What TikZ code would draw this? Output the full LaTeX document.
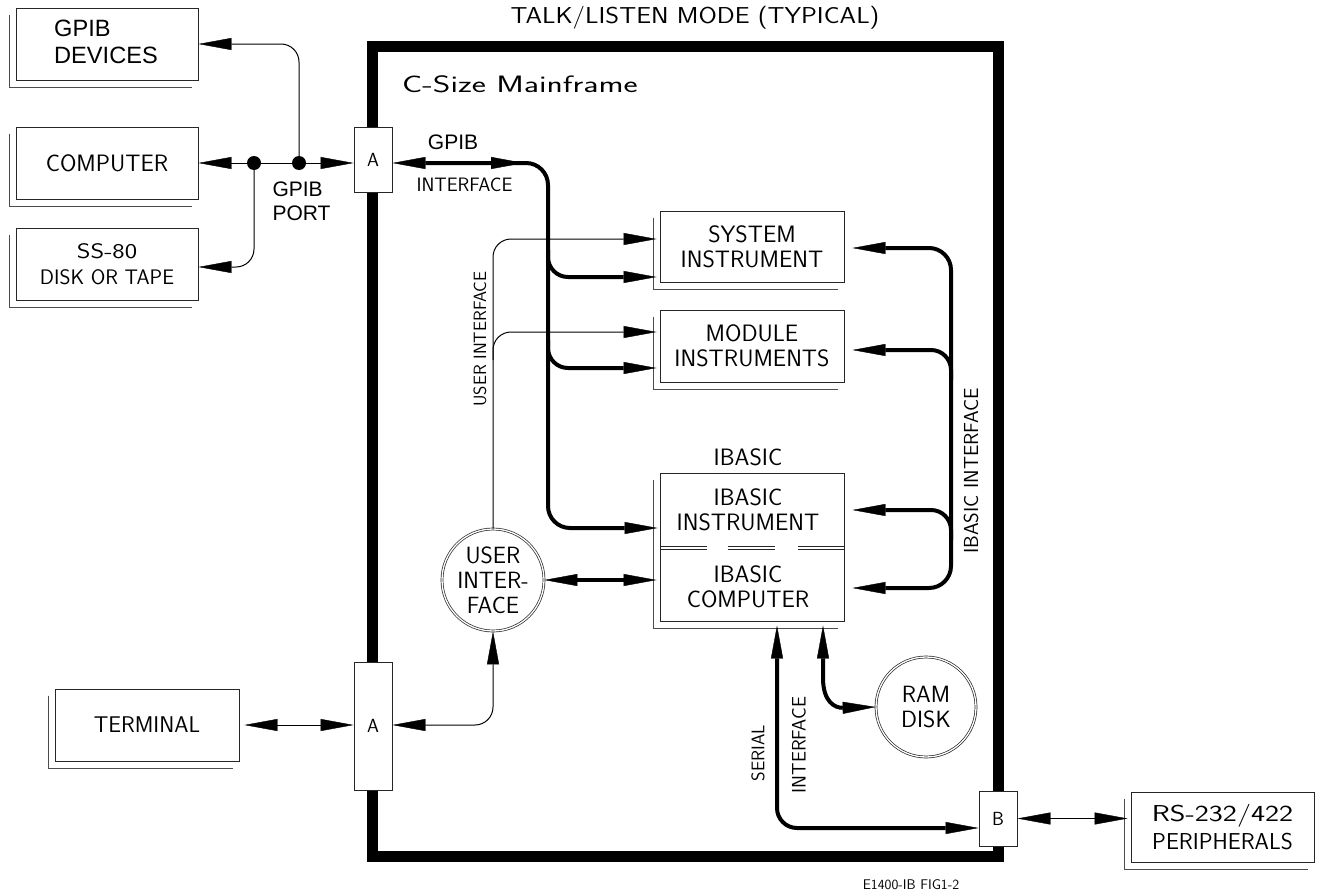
\documentclass[tikz,border=0pt]{standalone}
\usepackage{fontspec}
\usepackage{graphicx}
\newfontfamily\arial{Liberation Sans}
\usetikzlibrary{arrows.meta,calc}
\newcommand{\cadf}[2]{\sffamily\fontsize{#1}{#2}\selectfont}
\newcommand{\arif}[2]{\arial\fontsize{#1}{#2}\selectfont}
\tikzset{
  >={Triangle[length=33pt,width=12pt,line width=0.4pt]},
  box/.style={draw=black!85, line width=0.9pt, inner sep=0pt, fill=white, font=\cadf{23.7}{25}, align=center},
  shadowline/.style={draw=black!70, line width=0.9pt},
  wire/.style={line width=1pt},
  bus/.style={line width=4pt},
  cad/.style={font=\cadf{23.7}{25}, align=center, inner sep=0pt},
  dot/.style={circle, fill, inner sep=0pt, minimum size=14pt},
  rnd/.style={circle, draw=black!85, double, double distance=1.3pt, line width=0.7pt, inner sep=0pt, font=\cadf{23.5}{25}, align=center, fill=white},
}
\newcommand{\shadowof}[1]{\draw[shadowline] ([shift={(-6,7)}]#1.north west) |- ([shift={(-6,7)}]#1.south east);}
\begin{document}
\begin{tikzpicture}[x=1pt,y=-1pt]
\useasboundingbox[fill=white] (0,0) rectangle (1319,894);
% mainframe
\draw[line width=11pt] (372,46) rectangle (998,856);
\node[cad, font=\cadf{23}{25}] (title) at (695,18) {\scalebox{1.15}[1]{TALK/LISTEN MODE (TYPICAL)}};
\node[cad, anchor=west] (cmf) at (402,84) {\scalebox{1.42}[1]{C-Size Mainframe}};

% external boxes
\node[box, minimum width=182pt, minimum height=72pt] (gpibdev) at (107,44) {};
\node[font=\arif{23.6}{27.5}, align=left, inner sep=0pt, anchor=west] (gpibdevtxt) at (54,42) {GPIB\\DEVICES};
\node[box, minimum width=182pt, minimum height=72pt] (computer) at (107,163) {COMPUTER};
\node[box, minimum width=182pt, minimum height=72pt, font=\cadf{21}{25.5}] (ss80) at (107,264) {\scalebox{1.25}[1]{SS-80}\\DISK OR TAPE};
\node[box, minimum width=184pt, minimum height=72pt, font=\cadf{22.7}{25}] (terminal) at (147,725) {TERMINAL};
\node[box, minimum width=183pt, minimum height=70pt, font=\cadf{23}{27.5}] (rs) at (1222.5,827) {\scalebox{1.3}[1]{RS-232/422}\\PERIPHERALS};
\shadowof{gpibdev}
\shadowof{computer}
\shadowof{ss80}
\shadowof{terminal}
\shadowof{rs}

% inner boxes
\node[box, minimum width=184pt, minimum height=71pt] (sysinst) at (752,246.5) {SYSTEM\\INSTRUMENT};
\node[box, minimum width=184pt, minimum height=72pt] (modinst) at (752,346) {MODULE\\INSTRUMENTS};
\node[box, minimum width=184pt, minimum height=148pt] (ibasic) at (752,547) {};
\shadowof{sysinst}
\shadowof{modinst}
\shadowof{ibasic}
\draw[draw=black!85, line width=0.9pt, dash pattern=on 47pt off 21pt on 47pt off 23pt on 46pt] ([shift={(0,-0.5)}]ibasic.west) -- ([shift={(0,-0.5)}]ibasic.east);
\draw[draw=black!85, line width=0.9pt, dash pattern=on 47pt off 21pt on 47pt off 23pt on 46pt] ([shift={(0,2.5)}]ibasic.west) -- ([shift={(0,2.5)}]ibasic.east);
\node[cad] (ibasiclbl) at (748,457) {IBASIC};
\node[cad] (ibinst) at (748,509.5) {IBASIC\\INSTRUMENT};
\node[cad] (ibcomp) at (748,587) {IBASIC\\COMPUTER};

% ports
\node[box, minimum width=38pt, minimum height=65pt, font=\cadf{19}{22}] (A1) at (373,160) {A};
\node[box, minimum width=38pt, minimum height=128pt, font=\cadf{19}{22}] (A2) at (373,726) {A};
\node[box, minimum width=38pt, minimum height=55pt, font=\cadf{19}{22}] (B) at (998,818.5) {B};

% circles
\node[rnd, minimum size=102pt] (ui) at (493,580) {USER\\INTER-\\FACE};
\node[rnd, minimum size=100pt] (ram) at (926,707) {RAM\\DISK};

% GPIB port dots
\node[dot] (d1) at (254,163) {};
\node[dot] (d2) at (299,163) {};

% GPIB external wiring
\draw[wire,<->] (computer.east) -- (A1.west |- computer.east);
\draw[wire,->,rounded corners=18pt] (d2.center) |- (gpibdev.east);
\draw[wire,->,rounded corners=18pt] (d1.center) |- ([shift={(0,3)}]ss80.east);
\node[font=\arif{21}{24}, align=left, inner sep=0pt] (gpibport) at (301.5,201) {GPIB\\PORT};

% GPIB interface bus
\coordinate (gb) at (548,163);
\draw[bus,<->,rounded corners=22pt] (A1.east |- computer.east) -- (gb) -- (548,528) -- ([shift={(-2,-19)}]ibasic.west);
\draw[bus,->] (485,163) -- (524,163);
\draw[bus,->,rounded corners=20pt] (548,250) |- ([shift={(-3,30.5)}]sysinst.west);
\draw[bus,->,rounded corners=20pt] (548,340) |- ([shift={(-3,22)}]modinst.west);
\node[font=\arif{21}{24}, inner sep=0pt] (gpiblbl) at (453,142) {GPIB};
\node[cad, font=\cadf{19.4}{21}] (gpibif) at (464.5,185) {INTERFACE};

% user interface
\draw[wire,->,rounded corners=18pt] (ui.north) |- ([shift={(-3,-7.5)}]sysinst.west);
\draw[wire,->,rounded corners=18pt] (493,360) |- ([shift={(-3,-14)}]modinst.west);
\node[cad, font=\cadf{17.8}{20}, rotate=90] (uilbl) at (480,339) {USER INTERFACE};
\draw[bus,<->] (ui.east) -- ([xshift=-3pt]ibasic.west |- ui.east);
\draw[wire,<->] ([xshift=5pt]terminal.east) -- (A2.west |- terminal.east);
\draw[wire,<->,rounded corners=18pt] (A2.east |- terminal.east) -| (ui.south);

% IBASIC interface bus
\draw[bus,<->,rounded corners=22pt] ([shift={(8,1.5)}]sysinst.east) -- (951,248) -- (951,588) -- ([shift={(8,41)}]ibasic.east);
\draw[bus,->,rounded corners=20pt] (951,380) |- ([shift={(8,4)}]modinst.east);
\draw[bus,->,rounded corners=20pt] (951,540) |- ([shift={(8,-37)}]ibasic.east);
\node[cad, font=\cadf{20.3}{22}, rotate=90] (iblbl) at (971,471) {IBASIC INTERFACE};

% serial and RAM disk
\draw[bus,<->,rounded corners=20pt] ([shift={(25,4)}]ibasic.south) |- ([shift={(0,9.5)}]B.west);
\draw[bus,<->] ([shift={(71,4)}]ibasic.south) -- (823,678) .. controls (823,702) and (835,708) .. (ram.west);
\node[cad, font=\cadf{18.3}{20}, rotate=90] (serlbl) at (758,753) {SERIAL};
\node[cad, font=\cadf{19.5}{20}, rotate=90] (serif) at (799,745) {INTERFACE};
\draw[wire,<->] (B.east) -- ([xshift=-3pt]rs.west |- B.east);

\node[cad, font=\cadf{14}{16}] (fig) at (911,885) {E1400-IB FIG1-2};
\end{tikzpicture}
\end{document}
